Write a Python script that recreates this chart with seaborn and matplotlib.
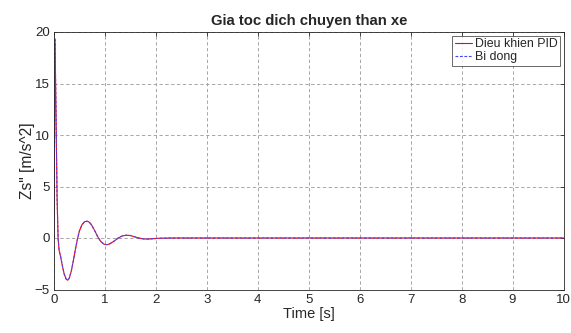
import matplotlib
matplotlib.use("Agg")
import matplotlib.pyplot as plt
import seaborn as sns
import numpy as np

time_s = [0, 0.02, 0.04, 0.06, 0.08, 0.10, 0.13, 0.16, 0.20, 0.24, 0.27, 0.30,
          0.34, 0.38, 0.42, 0.46, 0.50, 0.55, 0.60, 0.65, 0.69, 0.74, 0.80,
          0.86, 0.92, 0.98, 1.04, 1.10, 1.18, 1.26, 1.34, 1.42, 1.50, 1.58,
          1.66, 1.76, 1.86, 1.96, 2.1, 2.3, 3.0, 10.0]
pid_acc = [0, 19.0, 12.0, 4.0, 0.0, -1.2, -1.8, -2.6, -3.5, -4.0, -4.1, -3.9,
           -3.2, -2.2, -1.1, -0.1, 0.7, 1.3, 1.58, 1.63, 1.55, 1.25, 0.7,
           0.1, -0.35, -0.6, -0.65, -0.55, -0.3, 0.0, 0.2, 0.27, 0.24, 0.12,
           0.0, -0.09, -0.1, -0.06, -0.02, 0.0, 0.0, 0.0]
passive_acc = [0, 19.4, 12.3, 4.1, 0.0, -1.2, -1.8, -2.6, -3.5, -4.0, -4.1, -3.9,
               -3.2, -2.2, -1.1, -0.1, 0.7, 1.3, 1.58, 1.63, 1.55, 1.25, 0.7,
               0.1, -0.35, -0.6, -0.65, -0.55, -0.3, 0.0, 0.2, 0.27, 0.24, 0.12,
               0.0, -0.09, -0.1, -0.06, -0.02, 0.0, 0.0, 0.0]
series_names = ["Dieu khien PID", "Bi dong"]
x_ticks = list(range(0, 11))
y_ticks = [-5, 0, 5, 10, 15, 20]

sns.set_style("white")
plt.rcParams['font.family'] = ['Liberation Sans', 'DejaVu Sans']

fig = plt.figure(figsize=(5.71, 3.33), dpi=100)
ax = fig.add_axes([54/571, 1-289.5/333, (563.5-54)/571, (289.5-32)/333])

sns.lineplot(x=time_s, y=pid_acc, ax=ax, color='#FF0000', lw=0.8,
             label=series_names[0], estimator=None, sort=False)
sns.lineplot(x=time_s, y=passive_acc, ax=ax, color='#4444FF', lw=0.8,
             linestyle=(0, (2.5, 1.5)), label=series_names[1], estimator=None, sort=False)

ax.set_xlim(0, 10)
ax.set_ylim(-5, 20)
ax.set_xticks(x_ticks)
ax.set_yticks(y_ticks)
ax.tick_params(direction='in', top=True, right=True, length=3, width=0.6,
               labelsize=9.5, colors='#262626', pad=3)
ax.grid(True, linestyle=(0, (4, 3)), color='#999999', lw=0.6)
for s in ax.spines.values():
    s.set_color('#262626')
    s.set_linewidth(0.6)
ax.set_title('Gia toc dich chuyen than xe', fontsize=10.7, fontweight='bold', pad=5)
ax.set_xlabel('Time [s]', fontsize=10.5, labelpad=1)
ax.set_ylabel('Zs" [m/s^2]', fontsize=11.2, labelpad=0)
leg = ax.legend(loc='upper right', fontsize=8.9, frameon=True, fancybox=False,
                edgecolor='#262626', borderpad=0.2, handlelength=1.4,
                handletextpad=0.2, labelspacing=0.1, borderaxespad=0.3)
leg.get_frame().set_linewidth(0.6)

fig.savefig('out.png', dpi=100)
